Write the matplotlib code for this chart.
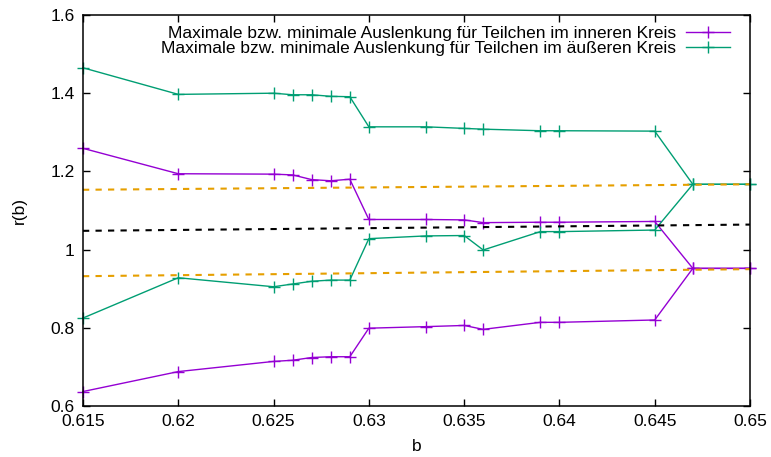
import matplotlib
matplotlib.use("Agg")
import matplotlib.pyplot as plt
import numpy as np

plt.rcParams['font.family'] = ['Liberation Sans', 'DejaVu Sans']

b = [0.615, 0.62, 0.625, 0.626, 0.627, 0.628, 0.629, 0.63, 0.633,
     0.635, 0.636, 0.639, 0.64, 0.645, 0.647, 0.65]

inner_max = [1.259, 1.194, 1.193, 1.191, 1.179, 1.176, 1.180, 1.077, 1.077,
             1.076, 1.069, 1.070, 1.070, 1.072, 0.952, 0.952]
inner_min = [0.637, 0.688, 0.714, 0.717, 0.724, 0.726, 0.726, 0.799, 0.803,
             0.806, 0.796, 0.814, 0.814, 0.820, 0.952, 0.952]
outer_max = [1.465, 1.397, 1.400, 1.396, 1.396, 1.392, 1.391, 1.314, 1.314,
             1.310, 1.308, 1.304, 1.304, 1.303, 1.167, 1.167]
outer_min = [0.825, 0.928, 0.905, 0.912, 0.919, 0.922, 0.922, 1.028, 1.035,
             1.036, 0.999, 1.046, 1.046, 1.050, 1.167, 1.167]

# reference lines (values at b = 0.615 and b = 0.65)
ref_b = [0.615, 0.65]
ref_upper = [1.153, 1.167]
ref_mid = [1.048, 1.064]
ref_lower = [0.932, 0.950]

label_inner = "Maximale bzw. minimale Auslenkung für Teilchen im inneren Kreis"
label_outer = "Maximale bzw. minimale Auslenkung für Teilchen im äußeren Kreis"

xticks = [0.615, 0.62, 0.625, 0.63, 0.635, 0.64, 0.645, 0.65]
xticklabels = ["0.615", "0.62", "0.625", "0.63", "0.635", "0.64", "0.645", "0.65"]
yticks = [0.6, 0.8, 1.0, 1.2, 1.4, 1.6]
yticklabels = ["0.6", "0.8", "1", "1.2", "1.4", "1.6"]

purple = "#9400D3"
green = "#009E73"
orange = "#E69F00"
fs = 12.5

W, H = 771, 457
fig = plt.figure(figsize=(W / 100, H / 100), dpi=100)
ax = fig.add_axes([83 / W, 1 - 406 / H, (750 - 83) / W, (406 - 15) / H])

mk = dict(marker='+', markersize=9, markeredgewidth=1.0, linewidth=1.0, clip_on=False)
ax.plot(b, inner_max, color=purple, label=label_inner, **mk)
ax.plot(b, inner_min, color=purple, **mk)
ax.plot(b, outer_max, color=green, label=label_outer, **mk)
ax.plot(b, outer_min, color=green, **mk)

for vals, col in [(ref_upper, orange), (ref_lower, orange), (ref_mid, "black")]:
    ln, = ax.plot(ref_b, vals, color=col, linewidth=1.5)
    ln.set_dashes([3, 3])

ax.set_xlim(0.615, 0.65)
ax.set_ylim(0.6, 1.6)
ax.set_xticks(xticks)
ax.set_xticklabels(xticklabels)
ax.set_yticks(yticks)
ax.set_yticklabels(yticklabels)
ax.tick_params(direction='in', length=5, width=1, labelsize=fs,
               top=True, right=True, pad=6)
for s in ax.spines.values():
    s.set_linewidth(1.1)

ax.set_xlabel("b", fontsize=fs, labelpad=7)
ax.set_ylabel("r(b)", fontsize=fs, labelpad=17)

ax.legend(loc='upper right', bbox_to_anchor=(0.981, 0.99), borderaxespad=0.0,
          markerfirst=False, frameon=False, fontsize=fs,
          handlelength=2.55, labelspacing=0.0, handletextpad=0.6)

fig.savefig("out.png", dpi=100)
